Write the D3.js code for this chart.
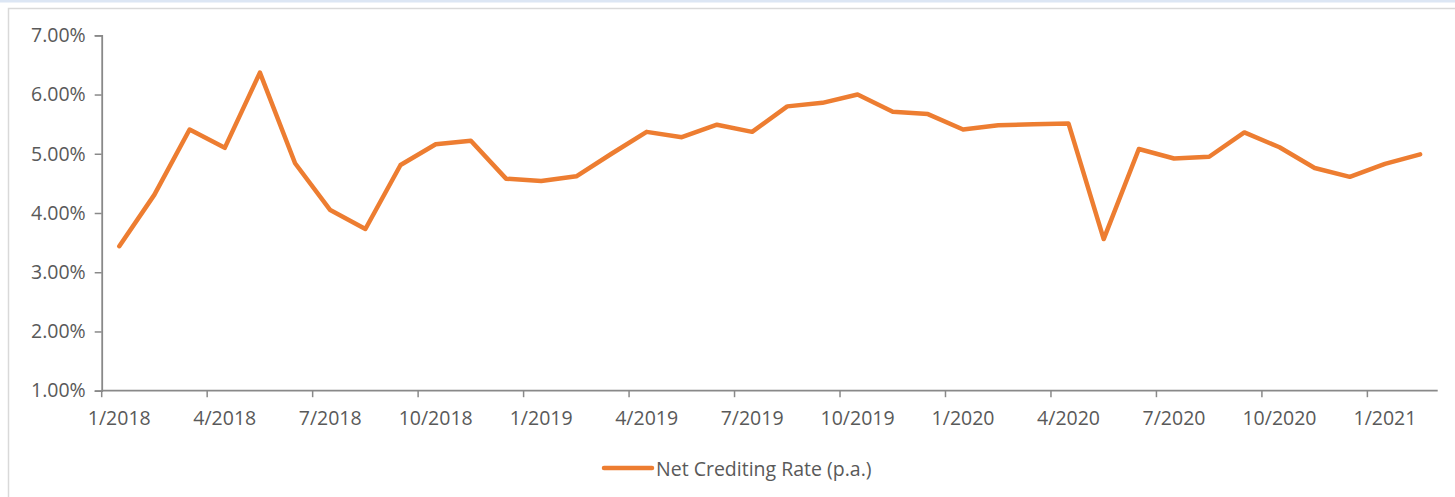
<!DOCTYPE html>
<html>
<head>
<meta charset="utf-8">
<script src="https://cdn.jsdelivr.net/npm/d3@7"></script>
<style>
  html, body { margin: 0; padding: 0; background: #fff; }
  svg { display: block; }
  text { font-family: "Open Sans", "Noto Sans", sans-serif; fill: #595959; }
</style>
</head>
<body>
<svg id="chart" width="1455" height="497"></svg>
<script>
// ---- data ----
const months = [
  "1/2018","2/2018","3/2018","4/2018","5/2018","6/2018","7/2018","8/2018","9/2018","10/2018","11/2018","12/2018",
  "1/2019","2/2019","3/2019","4/2019","5/2019","6/2019","7/2019","8/2019","9/2019","10/2019","11/2019","12/2019",
  "1/2020","2/2020","3/2020","4/2020","5/2020","6/2020","7/2020","8/2020","9/2020","10/2020","11/2020","12/2020",
  "1/2021","2/2021"
];
const netCreditingRate = [
  3.44, 4.31, 5.41, 5.10, 6.37, 4.84, 4.05, 3.73, 4.81, 5.16, 5.22, 4.58,
  4.54, 4.62, 5.00, 5.37, 5.28, 5.49, 5.37, 5.80, 5.86, 6.00, 5.71, 5.67,
  5.41, 5.48, 5.50, 5.51, 3.56, 5.08, 4.92, 4.95, 5.36, 5.11, 4.76, 4.61,
  4.83, 4.99
];
const yTicks = [1, 2, 3, 4, 5, 6, 7];
const xTickLabels = ["1/2018","4/2018","7/2018","10/2018","1/2019","4/2019","7/2019","10/2019","1/2020","4/2020","7/2020","10/2020","1/2021"];
const seriesName = "Net Crediting Rate (p.a.)";

// ---- layout ----
const svg = d3.select("#chart");
const mLeft = 101.7, mRight = 1437.7, mTop = 35.3, mBottom = 390.7;
const axisColor = "#898989";
const fontSize = 19.5;

// frame
svg.append("rect").attr("x", 0).attr("y", 0).attr("width", 1455).attr("height", 2.5).attr("fill", "#dce6f4");
svg.append("path").attr("d", "M8.5,497 V8.5 H1455").attr("fill", "none").attr("stroke", "#d9d9d9").attr("stroke-width", 1.5);

const x = d3.scaleBand().domain(months).range([mLeft, mRight]).paddingInner(0).paddingOuter(0);
const y = d3.scaleLinear().domain([1, 7]).range([mBottom, mTop]);

// y axis
const yAxis = d3.axisLeft(y).tickValues(yTicks).tickSize(7).tickPadding(9)
  .tickFormat(d => d.toFixed(2) + "%");
const gy = svg.append("g").attr("transform", `translate(${mLeft},0)`).call(yAxis);
gy.select(".domain").attr("stroke", axisColor).attr("stroke-width", 1.8);
gy.selectAll(".tick line").attr("stroke", axisColor).attr("stroke-width", 1.5);
gy.selectAll(".tick text").attr("font-size", fontSize).attr("fill", "#595959")
  .style("font-family", "'Open Sans', sans-serif");

// x axis: ticks at category boundaries every 3 months, labels centred on category
const tickMonths = months.filter((m, i) => i % 3 === 0);
const gx = svg.append("g").attr("transform", `translate(0,${mBottom})`);
gx.append("line").attr("x1", mLeft).attr("x2", mRight).attr("y1", 0).attr("y2", 0)
  .attr("stroke", axisColor).attr("stroke-width", 1.8);
gx.selectAll("line.tk").data(tickMonths).join("line").attr("class", "tk")
  .attr("x1", d => x(d)).attr("x2", d => x(d)).attr("y1", 0).attr("y2", 6.5)
  .attr("stroke", axisColor).attr("stroke-width", 1.5);
gx.selectAll("text.lbl").data(xTickLabels).join("text").attr("class", "lbl")
  .attr("x", d => x(d) + x.bandwidth() / 2).attr("y", 34.5)
  .attr("text-anchor", "middle").attr("font-size", fontSize).text(d => d);

// line
const line = d3.line()
  .x((d, i) => x(months[i]) + x.bandwidth() / 2)
  .y(d => y(d));
svg.append("path").datum(netCreditingRate)
  .attr("d", line).attr("fill", "none").attr("stroke", "#ED7D31")
  .attr("stroke-width", 4.5).attr("stroke-linejoin", "round").attr("stroke-linecap", "round");

// legend
const lg = svg.append("g").attr("transform", "translate(0,468)");
lg.append("line").attr("x1", 604).attr("x2", 652).attr("y1", 0).attr("y2", 0)
  .attr("stroke", "#ED7D31").attr("stroke-width", 4.5).attr("stroke-linecap", "round");
lg.append("text").attr("x", 656).attr("y", 7.5).attr("font-size", fontSize).text(seriesName);
</script>
</body>
</html>
